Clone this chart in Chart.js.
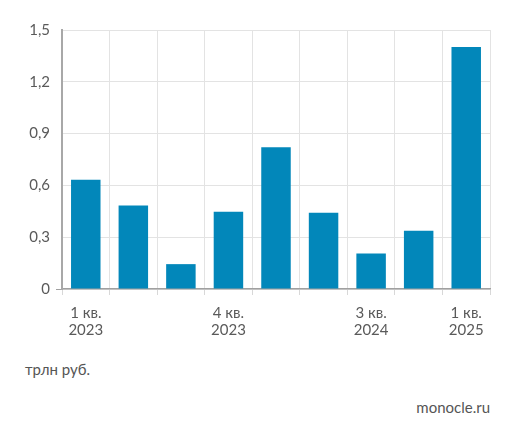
<!DOCTYPE html>
<html>
<head>
<meta charset="utf-8">
<script src="https://cdn.jsdelivr.net/npm/chart.js@4"></script>
<style>
 body { margin: 0; background: #fff; font-family: Lato, sans-serif; }
 #wrap { position: absolute; left: 0; top: 0; width: 516px; height: 348px; }
 .note { position: absolute; font-size: 15px; color: #555; }
</style>
</head>
<body>
<div id="wrap"><canvas id="barChart"></canvas></div>
<div class="note" style="left:25px; top:360px;">трлн руб.</div>
<div class="note" style="right:26px; top:398px;">monocle.ru</div>
<script>
// данные
const quarters = ["1 кв. 2023", "2 кв. 2023", "3 кв. 2023", "4 кв. 2023", "1 кв. 2024", "2 кв. 2024", "3 кв. 2024", "4 кв. 2024", "1 кв. 2025"];
const shownLabels = [["1 кв.", "2023"], "", "", ["4 кв.", "2023"], "", "", ["3 кв.", "2024"], "", ["1 кв.", "2025"]];
const values = [0.633, 0.483, 0.144, 0.448, 0.821, 0.442, 0.206, 0.337, 1.402];
const yTicks = [0, 0.3, 0.6, 0.9, 1.2, 1.5];

const config = {
 type: "bar",
 data: {
  labels: quarters,
  datasets: [{
   data: values,
   backgroundColor: "#0287ba",
   barPercentage: 0.62,
   categoryPercentage: 1
  }]
 },
 options: {
  responsive: true,
  maintainAspectRatio: false,
  animation: false,
  layout: { padding: { top: 30, right: 26, left: 0, bottom: 0 } },
  plugins: { legend: { display: false }, tooltip: { enabled: false } },
  scales: {
   x: {
    grid: { offset: true, color: "#e3e3e3", tickLength: 6, tickColor: "#d8d8d8" },
    border: { color: "#a0a0a0", width: 1.5 },
    ticks: {
     color: "#5a5a5a",
     font: { family: "Lato", size: 15, lineHeight: 1.1 },
     maxRotation: 0,
     autoSkip: false,
     padding: 10,
     callback: (v, i) => shownLabels[i]
    }
   },
   y: {
    min: 0,
    max: 1.5,
    afterBuildTicks: axis => { axis.ticks = yTicks.map(v => ({ value: v })); },
    afterFit: axis => { axis.width = 62; },
    grid: {
     color: "#e3e3e3",
     tickLength: 6,
     tickColor: ctx => ctx.tick && ctx.tick.value === 0 ? "#a0a0a0" : "rgba(0,0,0,0)"
    },
    border: { color: "#a8a8a8", width: 2 },
    ticks: {
     color: "#5a5a5a",
     font: { family: "Lato", size: 15 },
     padding: 6,
     callback: v => String(v).replace(".", ",")
    }
   }
  }
 }
};

new Chart(document.getElementById("barChart"), config);
</script>
</body>
</html>
